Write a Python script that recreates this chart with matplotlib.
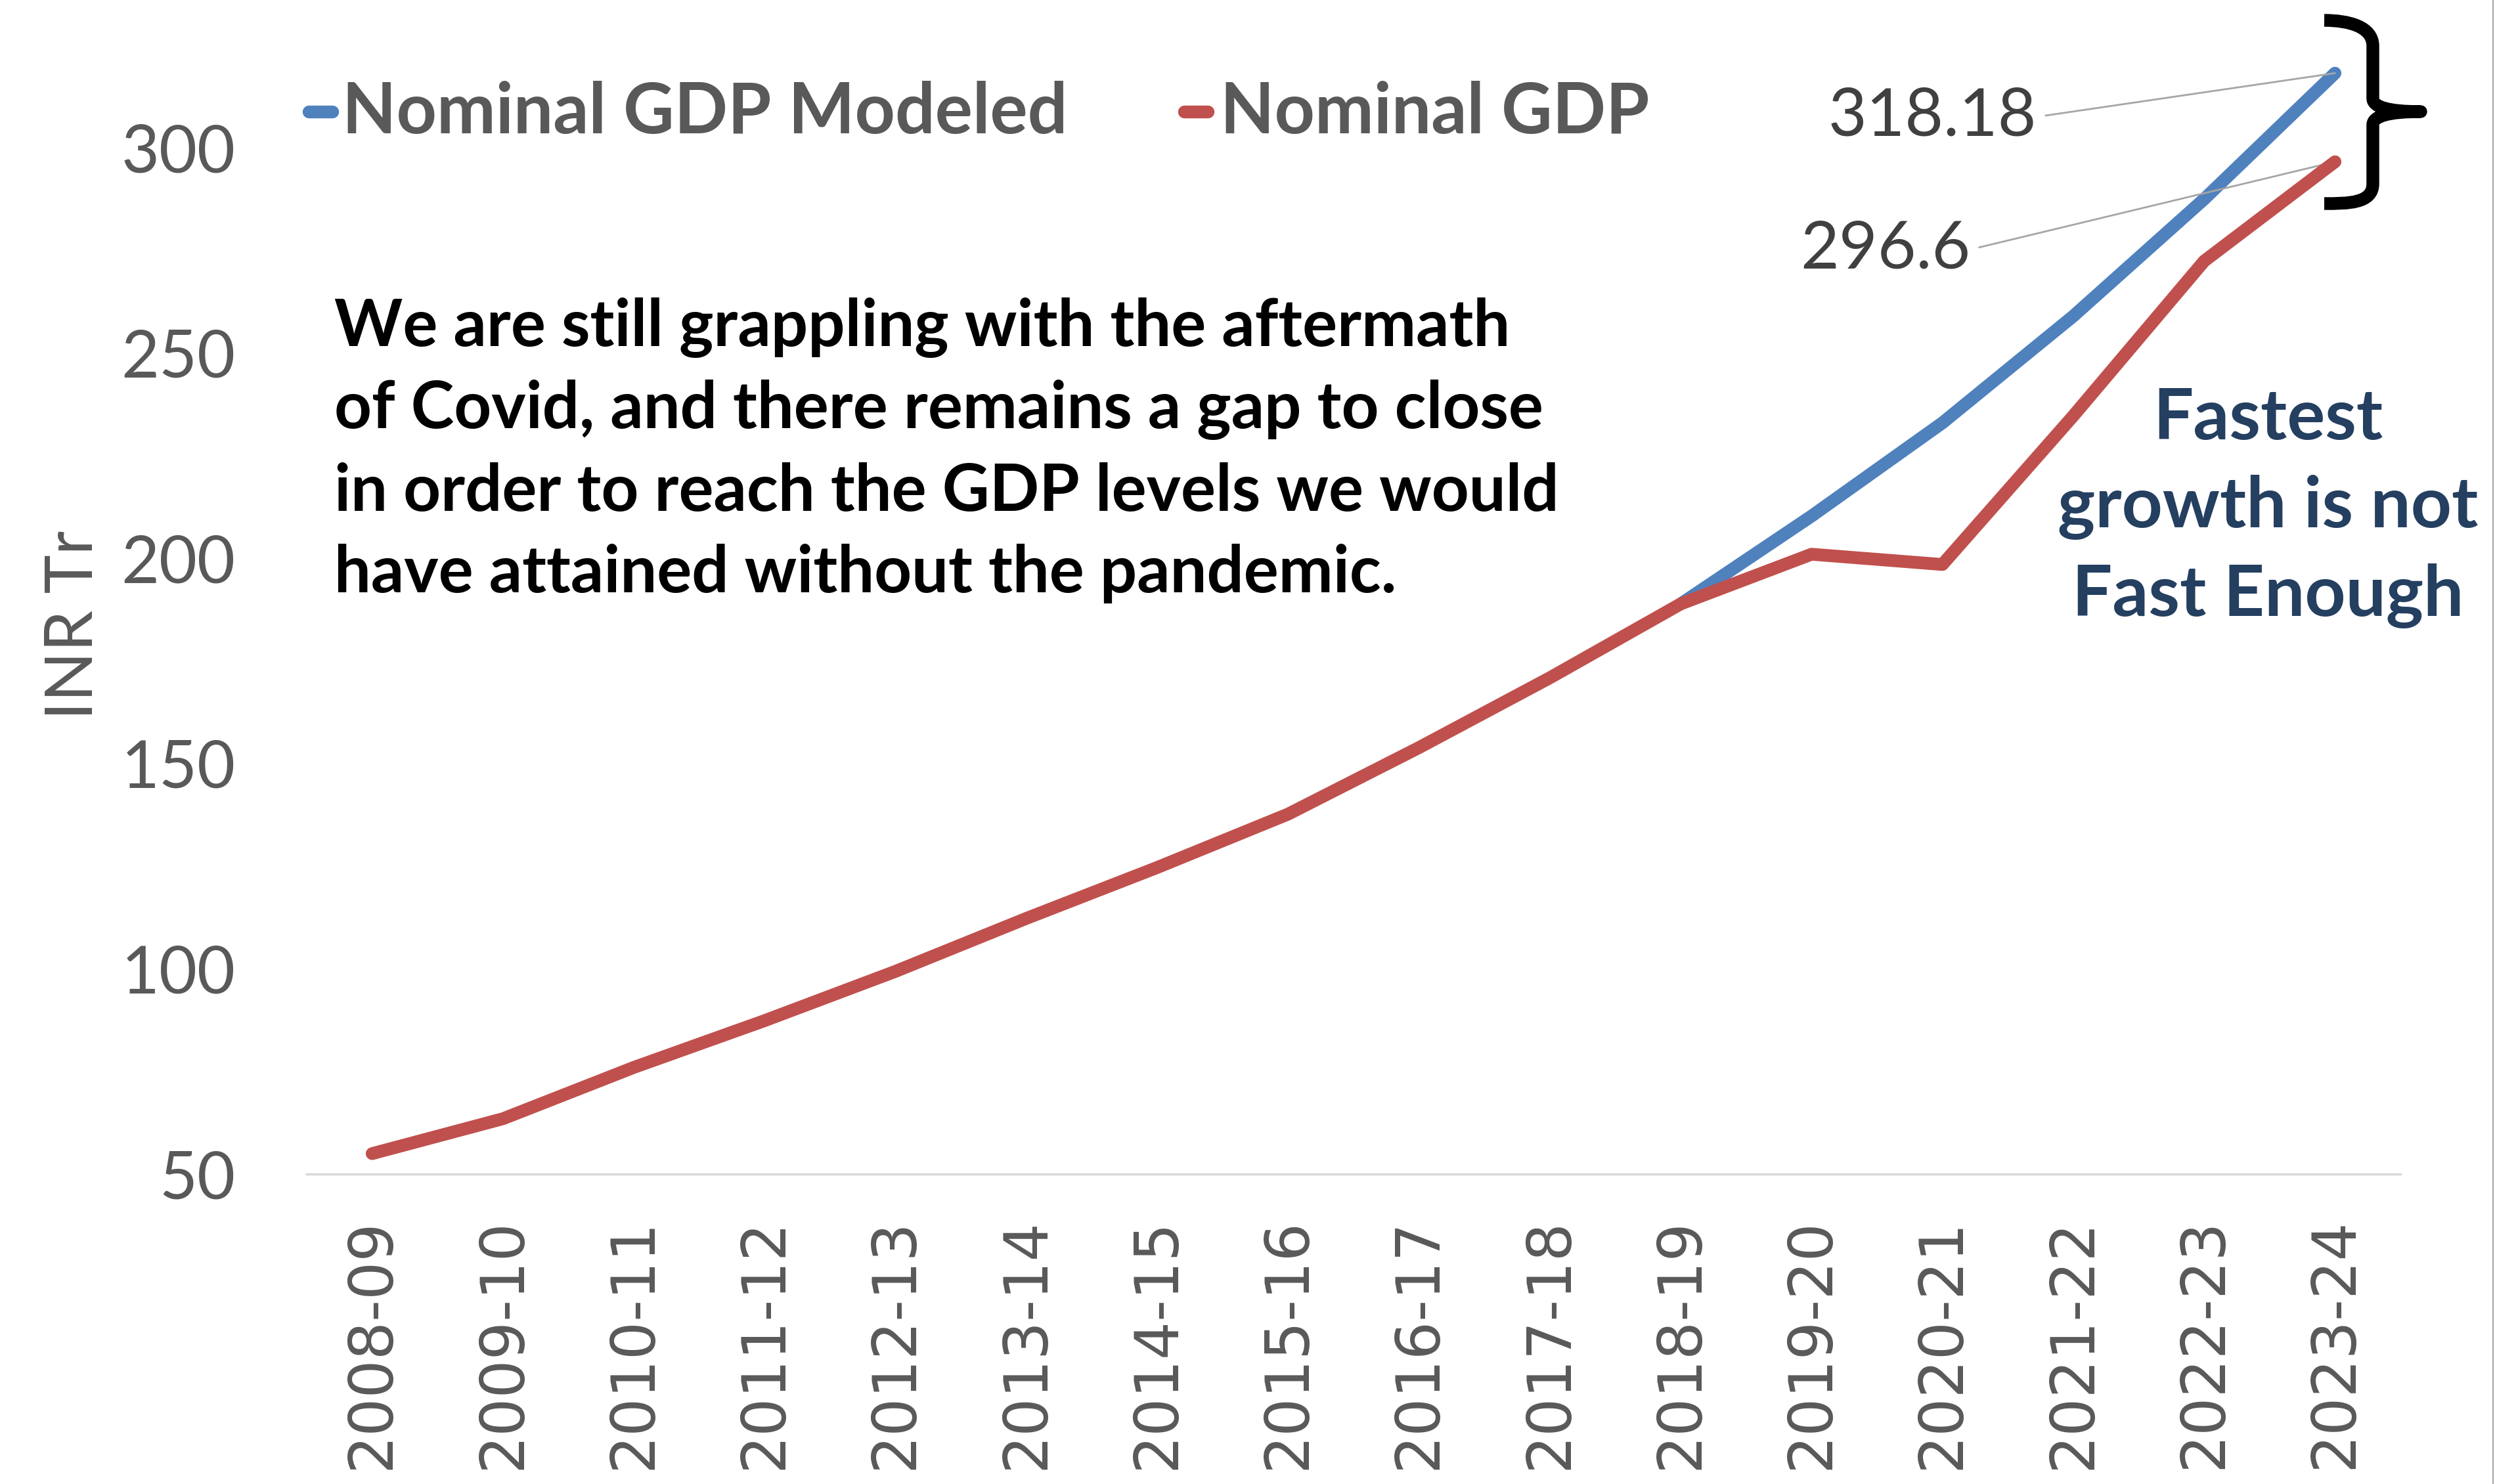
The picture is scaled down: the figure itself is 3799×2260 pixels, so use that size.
import numpy as np
import matplotlib
matplotlib.use("Agg")
import matplotlib.pyplot as plt
from matplotlib.lines import Line2D
from matplotlib.path import Path
from matplotlib.patches import PathPatch

years = ['2008-09', '2009-10', '2010-11', '2011-12', '2012-13', '2013-14',
         '2014-15', '2015-16', '2016-17', '2017-18', '2018-19', '2019-20',
         '2020-21', '2021-22', '2022-23', '2023-24']
nominal_gdp = [55.0, 63.5, 76.0, 87.4, 99.4, 112.3, 124.7, 137.7, 153.9,
               170.9, 188.9, 201.0, 198.5, 234.7, 272.4, 296.6]
modeled_gdp = [np.nan, np.nan, np.nan, np.nan, np.nan, np.nan, np.nan, np.nan,
               np.nan, np.nan, 188.9, 210.3, 233.0, 259.0, 287.5, 318.18]
y_ticks = [50, 100, 150, 200, 250, 300]

W, H = 3799, 2260
BLUE = '#4F81BD'
RED = '#C0504D'
GRAY = '#595959'

fig = plt.figure(figsize=(W / 100, H / 100), dpi=100)
ax = fig.add_axes([467 / W, 0.2088, (3655 - 467) / W, 0.7746])

x = np.arange(len(years))
ax.plot(x, modeled_gdp, color=BLUE, lw=14, solid_capstyle='round',
        solid_joinstyle='round', clip_on=False, zorder=3)
ax.plot(x, nominal_gdp, color=RED, lw=14, solid_capstyle='round',
        solid_joinstyle='round', clip_on=False, zorder=4)

ax.set_xlim(-0.5, len(years) - 0.5)
ax.set_ylim(50, 330)
ax.set_yticks(y_ticks)
ax.set_xticks(x)
ax.set_xticklabels(years, rotation=90, fontsize=66, color=GRAY,
                   family='DejaVu Sans')
for lab in ax.get_yticklabels():
    lab.set_family('Lato')
ax.tick_params(axis='y', length=0, pad=78, labelsize=72, labelcolor=GRAY)
ax.tick_params(axis='x', length=0, pad=48)
for s in ['top', 'right', 'left']:
    ax.spines[s].set_visible(False)
ax.spines['bottom'].set_color('#D9D9D9')
ax.spines['bottom'].set_linewidth(2.5)

ax.set_ylabel('INR Tr', fontsize=72, color=GRAY, family='Lato')
ax.yaxis.set_label_coords(-0.097, 0.4776)

# legend drawn by hand
legend_items = [('Nominal GDP Modeled', BLUE, 470, 521),
                ('Nominal GDP', RED, 1803, 1858)]
for name, col, x0, tx in legend_items:
    fig.add_artist(Line2D([x0 / W, (x0 + 36) / W], [1 - 170 / H, 1 - 170 / H],
                          transform=fig.transFigure, color=col, lw=14,
                          solid_capstyle='round'))
    fig.text(tx / W, 1 - 172 / H, name, fontsize=77, fontweight='bold',
             color=GRAY, family='Lato', va='center', ha='left')

# data labels with leader lines
ax.annotate('318.18', xy=(15, modeled_gdp[-1]), xytext=(3101, H - 178),
            textcoords='figure pixels', ha='right', va='center',
            fontsize=73, color='#404040', family='Lato',
            arrowprops=dict(arrowstyle='-', color='#A6A6A6', lw=2,
                            relpos=(1.0, 0.5), shrinkA=8, shrinkB=0))
ax.annotate('296.6', xy=(15, nominal_gdp[-1]), xytext=(3000, H - 380),
            textcoords='figure pixels', ha='right', va='center',
            fontsize=73, color='#404040', family='Lato',
            arrowprops=dict(arrowstyle='-', color='#A6A6A6', lw=2,
                            relpos=(1.0, 0.5), shrinkA=8, shrinkB=0))

fig.text(509 / W, 1 - 686 / H,
         'We are still grappling with the aftermath\n'
         'of Covid, and there remains a gap to close\n'
         'in order to reach the GDP levels we would\n'
         'have attained without the pandemic.',
         fontsize=71.5, fontweight='bold', color='black', family='Lato',
         va='center', ha='left', linespacing=1.45)

fig.text(3453 / W, 1 - 773 / H, 'Fastest\ngrowth is not\nFast Enough',
         fontsize=78, fontweight='bold', color='#243F60', family='Lato',
         va='center', ha='center', multialignment='center', linespacing=1.45)

# curly brace on the right
pts = [(3539, 31), (3575, 31), (3613, 40), (3613, 70),
       (3613, 150),
       (3613, 170), (3686, 170),
       (3613, 170), (3613, 190),
       (3613, 280),
       (3613, 310), (3575, 310), (3539, 310)]
codes = [Path.MOVETO, Path.CURVE4, Path.CURVE4, Path.CURVE4,
         Path.LINETO,
         Path.CURVE3, Path.CURVE3,
         Path.CURVE3, Path.CURVE3,
         Path.LINETO,
         Path.CURVE4, Path.CURVE4, Path.CURVE4]
verts = [(px / W, 1 - py / H) for px, py in pts]
fig.add_artist(PathPatch(Path(verts, codes), transform=fig.transFigure,
                         fill=False, lw=14, edgecolor='black',
                         joinstyle='round', capstyle='butt'))

fig.add_artist(Line2D([3796 / W, 3796 / W], [0, 1], transform=fig.transFigure,
                      color='#A6A6A6', lw=1.5))

fig.savefig('out.png', dpi=100)
